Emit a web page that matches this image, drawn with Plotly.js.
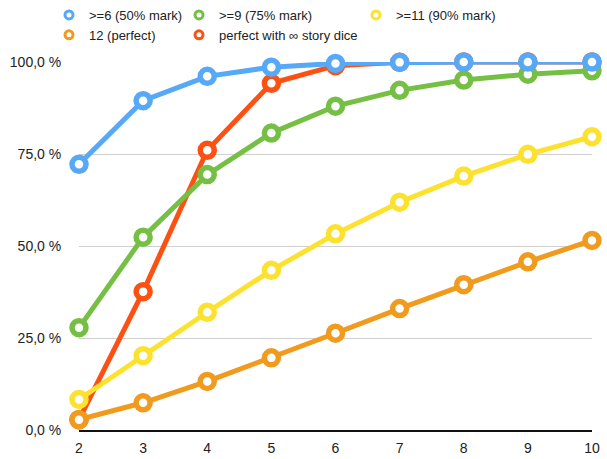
<!DOCTYPE html>
<html>
<head>
<meta charset="utf-8">
<script src="https://cdn.plot.ly/plotly-3.0.1.min.js"></script>
<style>
html,body{margin:0;padding:0;background:#fff;}
#chart{width:607px;height:459px;}
</style>
</head>
<body>
<div id="chart"></div>
<script>
// Number of dice rolled
const dice = [2, 3, 4, 5, 6, 7, 8, 9, 10];

// Chance (in %) of reaching each target
const atLeast6  = [72.2, 89.5, 96.1, 98.6, 99.6, 99.9, 100.0, 100.0, 100.0];
const atLeast9  = [27.8, 52.4, 69.4, 80.7, 88.0, 92.3, 95.1, 96.7, 97.6];
const atLeast11 = [8.3, 20.2, 32.0, 43.4, 53.3, 61.9, 69.0, 74.9, 79.7];
const perfect12 = [2.8, 7.4, 13.2, 19.6, 26.3, 33.0, 39.5, 45.7, 51.5];
const perfectStory = [2.8, 37.6, 76.0, 94.2, 99.0, 99.9, 100.0, 100.0, 100.0];

// Y axis ticks
const yTicks = [0, 25, 50, 75, 100];
const yTickText = ["0,0 %", "25,0 %", "50,0 %", "75,0 %", "100,0 %"];

const series = [
  {name: "perfect with \u221e story dice", y: perfectStory, color: "#fd5113", legend: "legend2", rank: 2},
  {name: ">=9 (75% mark)", y: atLeast9, color: "#75c044", legend: "legend2", rank: 1},
  {name: ">=11 (90% mark)", y: atLeast11, color: "#fce12e", legend: "legend3", rank: 1},
  {name: "12 (perfect)", y: perfect12, color: "#f09a1e", legend: "legend", rank: 2},
  {name: ">=6 (50% mark)", y: atLeast6, color: "#57a9f7", legend: "legend", rank: 1}
];

const traces = [];
series.forEach(s => {
  traces.push({
    x: dice, y: s.y, type: "scatter", mode: "lines+markers",
    line: {color: s.color, width: 5},
    marker: {symbol: "circle", size: 14, color: "#ffffff", line: {color: s.color, width: 5.5}},
    cliponaxis: false, showlegend: false, hoverinfo: "skip"
  });
});
// Legend entries: open circle icons only
series.forEach(s => {
  traces.push({
    x: [null], y: [null], type: "scatter", mode: "markers", name: s.name,
    marker: {symbol: "circle", size: 8, color: "#ffffff", line: {color: s.color, width: 3}},
    legend: s.legend, legendrank: s.rank, showlegend: true, hoverinfo: "skip"
  });
});

const legendBase = {
  orientation: "v", xref: "paper", yref: "paper",
  yanchor: "top", y: 1 + 62 / 368, xanchor: "left",
  font: {family: "Liberation Sans, Arial, sans-serif", size: 13, color: "#222"},
  bgcolor: "rgba(0,0,0,0)", borderwidth: 0, tracegroupgap: 0,
  itemwidth: 30, traceorder: "normal"
};

const layout = {
  width: 607, height: 459,
  margin: {l: 79, r: 15, t: 62, b: 29, autoexpand: false},
  paper_bgcolor: "#ffffff", plot_bgcolor: "#ffffff",
  font: {family: "Liberation Sans, Arial, sans-serif", size: 14, color: "#222"},
  xaxis: {
    range: [2, 10], autorange: false, tickvals: dice, ticks: "outside", ticklen: 4, tickcolor: "rgba(0,0,0,0)",
    showgrid: false, zeroline: false, automargin: false,
    showline: true, linecolor: "#111", linewidth: 2,
    tickfont: {family: "Liberation Sans, Arial, sans-serif", size: 14, color: "#222"}
  },
  yaxis: {
    range: [0, 100], autorange: false, tickvals: yTicks, ticktext: yTickText,
    ticks: "outside", ticklen: 14, tickcolor: "rgba(0,0,0,0)", automargin: false,
    showgrid: true, gridcolor: "#d0d0d0", gridwidth: 1, zeroline: false,
    showline: false, tickfont: {family: "Liberation Sans, Arial, sans-serif", size: 14, color: "#222"}
  },
  legend: Object.assign({}, legendBase, {x: -30 / 513}),
  legend2: Object.assign({}, legendBase, {x: 100 / 513}),
  legend3: Object.assign({}, legendBase, {x: 277 / 513}),
  showlegend: true
};

Plotly.newPlot("chart", traces, layout, {displayModeBar: false, staticPlot: true});
</script>
</body>
</html>
